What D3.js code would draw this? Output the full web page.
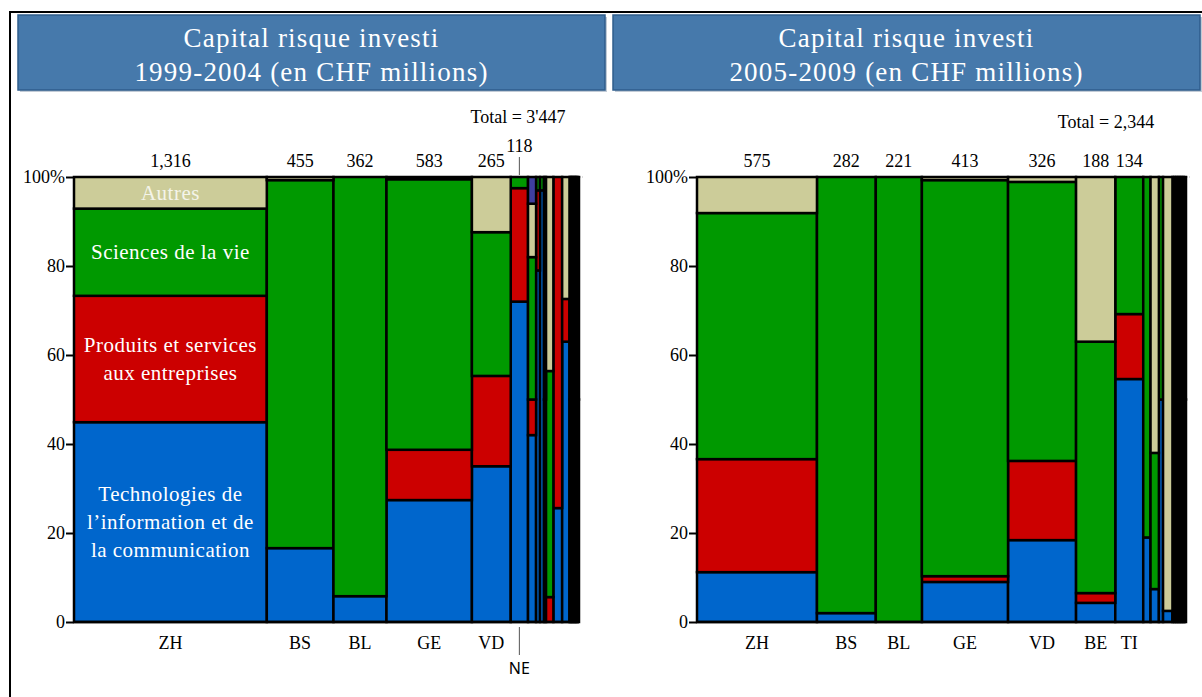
<!DOCTYPE html>
<html>
<head>
<meta charset="utf-8">
<script src="https://cdn.jsdelivr.net/npm/d3@7/dist/d3.min.js"></script>
<style>
  body { margin: 0; background: #fff; }
  svg { display: block; }
  text { font-family: "Liberation Serif", "Times New Roman", serif; }
</style>
</head>
<body>
<svg id="chart" width="1202" height="697"></svg>
<script>
// series, bottom to top
const keys = ["tic", "services", "sciences", "autres", "divers"];
const colors = { tic: "#0066CC", services: "#CC0000", sciences: "#009900", autres: "#CCCC99", divers: "#3F3F9F" };
const seriesLabels = {
  autres: ["Autres"],
  sciences: ["Sciences de la vie"],
  services: ["Produits et services", "aux entreprises"],
  tic: ["Technologies de", "l\u2019information  et de", "la communication"]
};
const yTicks = [0, 20, 40, 60, 80, 100];

// 1999-2004
const titles1 = ["Capital risque investi", "1999-2004 (en CHF millions)"];
const totalLabel1 = "Total = 3'447";
const cantons1 = ["ZH", "BS", "BL", "GE", "VD", "NE", "", "", "", "", "", "", "", "", "", "", "", "", "", ""];
const totals1 = [1316, 455, 362, 583, 265, 118, 55, 27, 27, 14, 50, 60, 50, 9, 9, 9, 9, 9, 10, 10];
const tic1 = [44.9, 16.6, 5.8, 27.4, 35, 72, 42, 79, 97, 50, 0, 25.6, 63, 50, 50, 50, 50, 50, 50, 50];
const services1 = [28.4, 0, 0, 11.3, 20.3, 25.5, 8, 18, 0, 0, 5.6, 74.4, 9.6, 0, 0, 0, 0, 0, 0, 0];
const sciences1 = [19.6, 82.7, 94.2, 60.8, 32.3, 2.5, 32, 3, 3, 0, 50.8, 0, 0, 50, 50, 50, 50, 50, 50, 50];
const autres1 = [7.1, 0.7, 0, 0.5, 12.4, 0, 12, 0, 0, 50, 43.6, 0, 27.4, 0, 0, 0, 0, 0, 0, 0];
const divers1 = [0, 0, 0, 0, 0, 0, 6, 0, 0, 0, 0, 0, 0, 0, 0, 0, 0, 0, 0, 0];

// 2005-2009
const titles2 = ["Capital risque investi", "2005-2009  (en CHF millions)"];
const totalLabel2 = "Total = 2,344";
const cantons2 = ["ZH", "BS", "BL", "GE", "VD", "BE", "TI", "", "", "", "", "", "", "", "", "", "", ""];
const totals2 = [575, 282, 221, 413, 326, 188, 134, 35, 40, 20, 45, 9, 9, 9, 9, 9, 10, 10];
const tic2 = [11.2, 2, 0, 9, 18.4, 4.3, 54.6, 19, 7.4, 50, 2.5, 50, 50, 50, 50, 50, 50, 50];
const services2 = [25.4, 0, 0, 1.3, 17.8, 2.2, 14.6, 0, 0, 0, 0, 0, 0, 0, 0, 0, 0, 0];
const sciences2 = [55.3, 98, 100, 89, 62.7, 56.5, 30.8, 81, 30.6, 50, 0, 50, 50, 50, 50, 50, 50, 50];
const autres2 = [8.1, 0, 0, 0.7, 1.1, 37, 0, 0, 62, 0, 97.5, 0, 0, 0, 0, 0, 0, 0];
const divers2 = [0, 0, 0, 0, 0, 0, 0, 0, 0, 0, 0, 0, 0, 0, 0, 0, 0, 0];

const svg = d3.select("#chart");
const fmt = d3.format(",");

// outer frame (left and top edges)
svg.append("path")
  .attr("d", "M10,697V12H1202")
  .attr("fill", "none").attr("stroke", "#000").attr("stroke-width", 2);

const y = d3.scaleLinear().domain([0, 100]).range([622, 177]);

function drawPanel(p) {
  const g = svg.append("g");

  // title box
  g.append("rect")
    .attr("x", p.bx + 2).attr("y", 17).attr("width", p.bw).attr("height", 75)
    .attr("fill", "#9aa9bb").attr("opacity", 0.6);
  g.append("rect")
    .attr("x", p.bx).attr("y", 15).attr("width", p.bw).attr("height", 75)
    .attr("fill", "#4679AB").attr("stroke", "#2f5d8c").attr("stroke-width", 1.5);
  g.selectAll("text.title").data(p.titles).join("text")
    .attr("class", "title")
    .attr("x", p.bx + p.bw / 2).attr("y", (d, i) => 47 + i * 34)
    .attr("text-anchor", "middle").attr("fill", "#fff")
    .style("font-size", "27px").style("letter-spacing", "1.2px").text(d => d);

  const cum = [0, ...d3.cumsum(p.totals)];
  const x = d3.scaleLinear().domain([0, d3.sum(p.totals)]).range([p.x0, p.x1]);
  const rows = p.totals.map((t, i) => ({
    i: i, tic: p.tic[i], services: p.services[i], sciences: p.sciences[i],
    autres: p.autres[i], divers: p.divers[i]
  }));
  const stacked = d3.stack().keys(keys)(rows);

  // faint top guide
  g.append("line")
    .attr("x1", p.x0).attr("x2", p.x1 + 4).attr("y1", y(100)).attr("y2", y(100))
    .attr("stroke", "#bbb").attr("stroke-dasharray", "1,1");

  g.selectAll("g.layer").data(stacked).join("g")
    .attr("class", "layer")
    .attr("fill", d => colors[d.key])
    .selectAll("rect").data(d => d.filter(s => s[1] - s[0] > 0)).join("rect")
    .attr("x", s => x(cum[s.data.i]))
    .attr("width", s => x(cum[s.data.i + 1]) - x(cum[s.data.i]))
    .attr("y", s => y(s[1]))
    .attr("height", s => y(s[0]) - y(s[1]))
    .attr("stroke", "#000").attr("stroke-width", 2.5);

  // baseline
  g.append("line")
    .attr("x1", p.x0).attr("x2", p.x1).attr("y1", y(0)).attr("y2", y(0))
    .attr("stroke", "#000").attr("stroke-width", 2.5);

  // y axis
  const ax = g.append("g")
    .attr("transform", `translate(${p.x0},0)`)
    .call(d3.axisLeft(y).tickValues(yTicks).tickSize(8).tickPadding(1)
      .tickFormat(d => d === 100 ? "100%" : d));
  ax.select(".domain").remove();
  ax.selectAll(".tick line").attr("stroke", "#000").attr("stroke-width", 2);
  ax.selectAll(".tick text").attr("fill", "#000")
    .style("font-size", "18px").style("font-family", "'Liberation Serif', serif");

  const named = p.cantons.map((c, i) => ({ c, i })).filter(d => d.c);
  const cx = i => x((cum[i] + cum[i + 1]) / 2);

  // column totals on top
  g.selectAll("text.tot").data(named).join("text")
    .attr("class", "tot")
    .attr("x", d => cx(d.i))
    .attr("y", d => d.i === p.raised ? 152 : 167)
    .attr("text-anchor", "middle").style("font-size", "18px")
    .text(d => fmt(p.totals[d.i]));

  // canton labels
  g.selectAll("text.cat").data(named.filter(d => d.i !== p.raised)).join("text")
    .attr("class", "cat")
    .attr("x", d => cx(d.i)).attr("y", 649)
    .attr("text-anchor", "middle").style("font-size", "18px")
    .text(d => d.c);

  if (p.raised != null) {
    const rx = cx(p.raised);
    g.append("line").attr("x1", rx).attr("x2", rx).attr("y1", 157).attr("y2", 175)
      .attr("stroke", "#555").attr("stroke-width", 1);
    g.append("line").attr("x1", rx).attr("x2", rx).attr("y1", 627).attr("y2", 655)
      .attr("stroke", "#555").attr("stroke-width", 1);
    g.append("text").attr("x", rx).attr("y", 674).attr("text-anchor", "middle")
      .style("font-family", "'Noto Sans', 'Open Sans', sans-serif").style("font-size", "16px")
      .text(p.cantons[p.raised]);
  }

  g.append("text")
    .attr("x", p.totalX).attr("y", p.totalY)
    .attr("text-anchor", "middle").style("font-size", "18px")
    .text(p.totalLabel);

  // segment labels inside the first column
  if (p.inLabels) {
    const first = stacked.map(s => ({ key: s.key, seg: s[0] })).filter(d => seriesLabels[d.key]);
    first.forEach(d => {
      const lines = seriesLabels[d.key];
      const mid = y((d.seg[0] + d.seg[1]) / 2);
      g.selectAll(null).data(lines).join("text")
        .attr("x", cx(0))
        .attr("y", (t, j) => mid + 7 + (j - (lines.length - 1) / 2) * 28)
        .attr("text-anchor", "middle")
        .attr("fill", d.key === "autres" ? "#f4f4ea" : "#fff")
        .style("font-size", "21px").style("letter-spacing", "0.5px")
        .text(t => t);
    });
  }
}

drawPanel({
  bx: 18, bw: 587, titles: titles1, totalLabel: totalLabel1, totalX: 518, totalY: 123,
  x0: 74, x1: 579, cantons: cantons1, totals: totals1,
  tic: tic1, services: services1, sciences: sciences1, autres: autres1, divers: divers1,
  raised: 5, inLabels: true
});

drawPanel({
  bx: 613, bw: 587, titles: titles2, totalLabel: totalLabel2, totalX: 1106, totalY: 128,
  x0: 697, x1: 1186, cantons: cantons2, totals: totals2,
  tic: tic2, services: services2, sciences: sciences2, autres: autres2, divers: divers2,
  raised: null, inLabels: false
});
</script>
</body>
</html>
